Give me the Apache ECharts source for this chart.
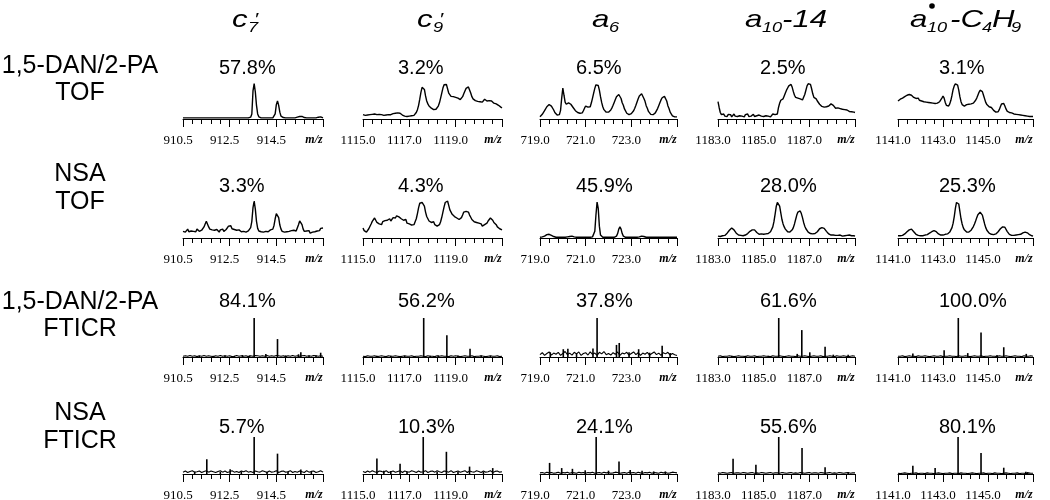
<!DOCTYPE html>
<html><head><meta charset="utf-8">
<script src="https://cdn.jsdelivr.net/npm/echarts/dist/echarts.min.js"></script>
<style>html,body{margin:0;padding:0;background:#fff}#c{width:1050px;height:500px}</style>
</head><body><div id="c"></div>
<script>
// ---------- categories / labels ----------
const columnTitles = ["c7'", "c9'", "a6", "a10-14", "a10•-C4H9"];
const rowLabels = [["1,5-DAN/2-PA","TOF"],["NSA","TOF"],["1,5-DAN/2-PA","FTICR"],["NSA","FTICR"]];
const mzMin = [910.5, 1115.0, 719.0, 1183.0, 1141.0];
const mzSpan = 6;
const mzTickStep = 2;
const pct_r1 = [57.8, 3.2, 6.5, 2.5, 3.1];
const pct_r2 = [3.3, 4.3, 45.9, 28.0, 25.3];
const pct_r3 = [84.1, 56.2, 37.8, 61.6, 100.0];
const pct_r4 = [5.7, 10.3, 24.1, 55.6, 80.1];

// ---------- TOF profiles (relative intensity, sampled every 0.05 m/z from mzMin) ----------
const tofStep = 0.05;
const r1_c7 = [3,3,3,3,3,3,3,3,3,3, 3,3,3,3,3,3,3,3,3,3, 3,3,3,3,3,3,3,3,3,3, 3,3,3,3,3,3,3,3,3,3, 3,3,3,3,3,3,3,3,3,3,
 3,3,3,3,3,3,3,3,5,14, 78,98,75,38,14,6,4,3,3,3, 3,3,3,3,3,3,3,3,5,14, 40,50,38,19,8,5,4,3,3,3, 3,3,3,3,3,3,3,4,5,6,
 7,8,7,5,4,3,3,3,3,3, 3,3,3,3,3,4,5,6,6,5, 3];
const r1_c9 = [12,14,10,13,11,15,12,10,13,12, 14,11,12,9,13,11,12,14,10,12, 11,13,12,14,12,16,15,18,16,19, 17,15,16,13,11,9,8,10,7,8,
 8,6,9,7,10,13,18,26,38,55, 74,88,93,82,64,50,42,36,33,30, 28,26,28,27,31,36,45,58,72,86, 95,100,96,84,72,68,63,66,62,65,
 60,63,58,55,54,57,62,70,78,85, 88,89,84,72,62,56,54,51,53,49, 50,48,51,47,52,55,53,50,54,51, 48,50,46,44,47,42,40,38,35,33, 31];
const r1_a6 = [6,9,13,17,23,28,34,37,40,39, 36,31,25,18,14,11,10,12,24,58, 86,66,47,41,44,45,43,41,38,32, 27,23,22,18,19,16,18,17,23,30,
 36,38,33,30,34,45,58,72,85,95, 100,93,80,62,46,34,26,21,19,18, 19,21,25,31,38,46,54,62,67,68, 64,57,45,38,28,23,16,15,12,14,
 15,18,23,30,38,47,56,64,69,70, 66,57,49,37,30,21,18,13,14,12, 14,17,22,29,37,45,53,59,62,63, 58,50,37,29,19,15,9,9,6,7, 6];
const r1_a10 = [48,32,18,12,9,14,8,11,7,13, 9,12,6,10,14,8,11,7,12,9, 13,8,10,6,12,9,14,7,11,8, 10,13,7,12,9,6,11,14,8,10,
 7,12,9,13,8,11,6,10,14,9, 12,15,14,32,44,52,48,56,64,72, 80,86,92,95,96,88,76,66,60,57, 58,54,56,52,53,58,68,80,92,98,
 100,96,84,70,60,55,56,50,46,41, 38,35,37,33,30,34,38,36,40,42, 40,38,34,30,28,31,26,29,25,27, 24,26,22,25,23,21,24,20,22,19, 18];
const r1_a10r = [50,48,55,52,58,56,62,60,66,70, 68,72,66,64,60,62,57,55,58,52, 54,50,52,48,51,47,50,46,49,45, 48,44,47,43,46,44,45,48,52,58,
 64,58,46,38,34,36,42,52,66,82, 92,98,100,94,80,62,48,40,37,36, 38,40,42,41,44,42,46,44,48,52, 58,66,74,80,82,76,66,56,46,40,
 36,34,34,32,28,24,21,19,18,20, 26,34,42,45,43,36,28,22,20,18, 20,17,16,14,16,13,15,12,14,11, 12,10,11,9,10,8,9,7,8,7, 7];
const r2_c7 = [18,22,16,20,24,17,21,19,23,18, 22,17,24,20,18,23,21,26,30,38, 45,40,30,24,19,22,17,21,18,23, 20,16,22,19,24,18,21,23,27,32,
 36,33,25,20,23,18,21,16,22,19, 17,22,18,20,16,21,19,23,28,45, 82,100,78,45,26,19,22,17,20,16, 21,18,23,17,20,22,19,24,34,52,
 66,68,55,35,24,18,21,16,20,17, 22,18,15,20,17,21,16,19,24,36, 46,48,36,24,18,14,19,15,20,13, 18,16,21,17,22,19,24,20,26,23, 27];
const r2_c9 = [27,20,24,16,18,25,30,38,45,50, 54,48,42,46,38,41,36,44,40,47, 42,48,45,52,46,50,55,58,54,60, 63,57,60,52,54,48,44,50,40,43,
 38,42,35,40,36,44,52,66,82,94, 98,96,100,86,70,58,52,46,48,42, 40,44,36,38,32,31,36,44,56,70, 84,96,92,100,88,76,70,64,63,58,
 60,54,56,50,49,55,62,70,74,72, 76,70,62,56,50,46,44,40,42,38, 40,35,38,32,31,36,34,40,46,50, 54,52,48,42,38,36,30,28,25,24, 22];
const r2_a6 = [2,2,3,4,5,7,9,10,10,9, 7,5,4,3,2,2,2,2,2,2, 2,2,2,2,3,3,4,5,5,4, 3,2,2,2,2,2,2,2,2,2,
 2,2,2,2,2,2,3,5,18,62, 97,80,32,8,3,2,2,2,2,2, 2,2,2,2,2,2,3,5,12,24, 30,24,12,5,3,2,2,2,2,2,
 2,2,2,2,2,2,2,3,4,5, 5,4,3,2,2,2,2,2,2,2, 2,2,2,2,2,2,2,2,2,2, 2,2,2,2,2,2,2,2,2,2, 2];
const r2_a10 = [5,6,4,7,6,8,7,10,13,17, 21,25,27,26,22,17,13,10,8,9, 7,8,6,9,8,10,12,15,18,20, 22,23,22,19,15,12,10,9,11,8,
 10,9,11,10,12,14,17,22,30,44, 64,85,96,97,86,68,50,38,30,24, 19,17,15,16,18,22,28,38,50,62, 70,73,73,66,55,42,32,25,20,16,
 13,12,10,11,9,12,14,17,21,25, 27,28,28,26,22,18,14,11,9,8, 7,8,6,7,5,7,6,8,6,5, 7,6,5,7,6,8,5,6,7,6, 5];
const r2_a10r = [6,7,6,8,7,9,11,14,17,20, 22,24,24,21,17,13,10,8,7,8, 6,7,6,7,8,7,9,11,13,15, 17,19,20,20,17,14,11,9,8,9,
 8,9,10,9,11,13,16,20,28,40, 58,80,96,100,92,72,52,38,28,22, 18,16,15,16,18,21,25,31,38,46, 55,63,68,70,69,62,50,38,28,21,
 16,13,11,10,9,9,10,11,14,17, 21,25,28,30,31,29,24,18,13,10, 8,7,8,7,6,8,7,9,8,10, 12,14,15,16,16,14,11,9,7,6, 5];

// ---------- FTICR peaks [m/z, relative intensity] ----------
const r3_c7 = [[911.2,3],[911.8,3],[912.3,4],[912.7,3],[913.05,5],[913.35,4],[913.55,100],[914.05,8],[914.55,46],[914.9,4],[915.45,7],[915.55,12],[915.9,4],[916.2,4],[916.4,11]];
const r3_c9 = [[1115.6,3],[1116.2,3],[1116.8,3],[1117.62,100],[1117.9,3],[1118.25,4],[1118.62,56],[1119.1,4],[1119.62,21],[1120.1,4],[1120.5,3]];
const r3_a6 = [[719.45,12],[720.02,20],[720.22,21],[720.6,10],[721.32,22],[721.5,100],[722.35,31],[722.47,36],[722.9,12],[723.32,20],[723.8,11],[724.35,29],[724.7,10]];
const r3_a10 = [[1183.6,3],[1184.2,3],[1185.2,3],[1185.66,100],[1186.47,8],[1186.67,69],[1187.02,12],[1187.69,26],[1188.05,6],[1188.7,6]];
const r3_a10r = [[1141.66,9],[1143.05,17],[1143.68,100],[1144.1,10],[1144.69,63],[1145.4,5],[1145.7,25],[1146.7,8]];
const r4_c7 = [[911.0,6],[911.52,40],[912.1,6],[912.52,13],[913.0,7],[913.55,100],[914.1,6],[914.55,55],[915.0,7],[915.55,12],[916.0,6]];
const r4_c9 = [[1115.6,42],[1115.9,9],[1116.2,8],[1116.6,28],[1116.9,7],[1117.6,100],[1118.2,6],[1118.6,60],[1119.1,6],[1119.6,20],[1120.2,6],[1120.6,16]];
const r4_a6 = [[719.42,30],[719.95,16],[720.42,14],[720.98,10],[721.46,100],[722.0,9],[722.46,34],[722.95,11],[723.47,9],[723.98,7],[724.49,7]];
const r4_a10 = [[1183.66,41],[1184.66,25],[1185.66,100],[1186.68,70],[1187.69,18],[1188.7,5]];
const r4_a10r = [[1141.66,22],[1142.65,16],[1143.67,100],[1144.69,57],[1145.7,17],[1146.68,6],[1146.75,5]];

// ---------- FTICR baseline noise (sampled every 0.1 m/z from mzMin) ----------
const noiseStep = 0.1;
const r3_c7_noise = [2,3,2,4,2,3,1,3,2,4, 2,3,2,1,3,2,4,2,3,2, 3,1,2,4,2,3,2,3,1,3, 2,4,3,2,3,2,4,2,3,2, 4,3,2,3,1,3,2,4,2,3, 2,3,4,2,3,2,4,3,2,3, 2];
const r3_c9_noise = [2,1,3,2,2,3,1,2,3,2, 1,3,2,2,3,2,1,2,3,2, 2,3,1,2,2,3,2,1,3,2, 2,1,3,2,3,2,2,1,3,2, 3,2,1,2,3,2,2,3,1,2, 2,3,2,1,2,3,2,2,3,1, 2];
const r3_a6_noise = [6,11,4,9,13,5,10,7,12,4, 9,14,6,10,5,12,8,13,4,9, 11,5,13,7,10,4,12,8,14,6, 9,5,11,7,13,4,10,8,12,5, 9,13,6,11,4,10,7,12,5,9, 13,6,10,4,11,8,12,5,9,6, 4];
const r3_a10_noise = [2,3,1,2,2,3,2,1,2,3, 2,2,1,3,2,2,3,1,2,2, 3,2,2,1,3,2,2,3,2,1, 2,3,2,2,1,3,2,2,3,2, 1,2,3,2,2,3,1,2,2,3, 2,1,3,2,2,3,2,1,2,3, 2];
const r3_a10r_noise = [2,2,3,1,2,3,2,2,1,3, 2,2,3,2,1,2,3,2,2,3, 1,2,2,3,2,2,1,3,2,2, 3,2,1,2,3,2,2,3,1,2, 2,3,2,2,1,3,2,2,3,2, 1,2,3,2,2,1,3,2,2,3, 2];
const r4_c7_noise = [5,8,4,7,9,5,6,8,4,7, 9,5,8,6,4,7,9,5,8,4, 6,9,5,7,4,8,6,9,5,7, 4,8,6,5,9,7,4,8,5,6, 9,4,7,8,5,6,9,4,7,5, 8,6,4,9,5,7,8,4,6,9, 5];
const r4_c9_noise = [7,4,8,5,9,6,4,8,7,5, 9,4,6,8,5,7,9,4,8,6, 5,9,7,4,8,5,6,9,4,7, 8,5,9,6,4,8,7,5,9,4, 6,8,5,7,9,4,8,6,5,9, 7,4,8,5,6,9,4,7,8,5, 6];
const r4_a6_noise = [3,4,2,5,3,4,2,3,5,2, 4,3,5,2,4,3,2,5,3,4, 2,4,3,5,2,3,4,2,5,3, 4,2,3,5,4,2,3,4,2,5, 3,4,2,5,3,2,4,3,5,2, 4,3,2,5,3,4,2,3,5,4, 3];
const r4_a10_noise = [3,2,4,3,2,3,4,2,3,3, 2,4,3,2,3,4,2,3,2,4, 3,2,3,4,2,3,3,2,4,3, 2,3,4,2,3,2,4,3,2,3, 4,2,3,3,2,4,3,2,3,4, 2,3,2,4,3,2,3,4,2,3, 3];
const r4_a10r_noise = [2,1,2,3,2,1,2,2,3,1, 2,2,1,3,2,2,1,2,3,2, 1,2,2,3,1,2,2,1,3,2, 2,1,2,3,2,1,2,2,3,1, 2,2,1,3,2,2,1,2,3,2, 1,2,2,3,1,2,2,1,3,2, 2];

// ---------- layout ----------
const colLeft = [183, 363, 540, 718, 898];
const colWidth = [140, 139, 137, 137, 135];
const rowTop = [83, 201, 318, 437];
const rowAxisY = [119, 238, 357, 474];
const pctX = [219, 398, 576, 760, 939];
const pctY = [68, 186, 301, 427];
const rowLabelX = 80;
const rowLabelY = [[66, 93], [174, 202], [302, 329], [413, 441]];

const tofRows = [[r1_c7, r1_c9, r1_a6, r1_a10, r1_a10r], [r2_c7, r2_c9, r2_a6, r2_a10, r2_a10r]];
const ftRows = [[r3_c7, r3_c9, r3_a6, r3_a10, r3_a10r], [r4_c7, r4_c9, r4_a6, r4_a10, r4_a10r]];
const ftNoise = [[r3_c7_noise, r3_c9_noise, r3_a6_noise, r3_a10_noise, r3_a10r_noise],
                 [r4_c7_noise, r4_c9_noise, r4_a6_noise, r4_a10_noise, r4_a10r_noise]];
const pctRows = [pct_r1, pct_r2, pct_r3, pct_r4];

const SANS = '"Liberation Sans", Arial, sans-serif';
const SERIF = '"Liberation Serif", "Times New Roman", serif';

const grids = [], xAxes = [], yAxes = [], series = [];
let gi = 0;
for (let r = 0; r < 4; r++) {
  for (let c = 0; c < 5; c++) {
    const min = mzMin[c];
    grids.push({left: colLeft[c], top: rowTop[r], width: colWidth[c], height: rowAxisY[r] - rowTop[r],
                containLabel: false, outerBoundsMode: 'none'});
    xAxes.push({
      type: 'value', gridIndex: gi, min: 0, max: mzSpan, interval: mzTickStep,
      axisLine: {show: true, onZero: false, lineStyle: {color: '#000', width: 1}},
      axisTick: {show: true, length: 8, lineStyle: {color: '#000', width: 1}},
      minorTick: {show: true, splitNumber: 5, length: 5, lineStyle: {color: '#000', width: 1}},
      splitLine: {show: false}, minorSplitLine: {show: false},
      axisLabel: {
        show: true, showMinLabel: true, showMaxLabel: true, hideOverlap: false,
        margin: 15, color: '#000', fontFamily: SERIF, fontSize: 13, padding: [0, 10, 0, 0],
        formatter: (v) => Math.abs(v - mzSpan) < 1e-6 ? '{m|m/z}' : (min + v).toFixed(1),
        rich: {m: {fontFamily: SERIF, fontSize: 12, fontStyle: 'italic', fontWeight: 'bold', color: '#000', padding: [0, 8, 0, 0]}}
      }
    });
    yAxes.push({type: 'value', gridIndex: gi, min: 0, max: 100, show: false});
    if (r < 2) {
      const arr = tofRows[r][c];
      series.push({type: 'line', xAxisIndex: gi, yAxisIndex: gi, symbol: 'none', animation: false,
        lineStyle: {color: '#000', width: 1.4}, data: arr.map((v, i) => [i * tofStep, v])});
    } else {
      const noise = ftNoise[r - 2][c];
      series.push({type: 'line', xAxisIndex: gi, yAxisIndex: gi, symbol: 'none', animation: false, z: 2,
        lineStyle: {color: '#000', width: 1.1}, data: noise.map((v, i) => [i * noiseStep, v])});
      const peaks = ftRows[r - 2][c];
      series.push({type: 'bar', xAxisIndex: gi, yAxisIndex: gi, barWidth: 1.6, animation: false, z: 3,
        itemStyle: {color: '#000'}, data: peaks.map(p => [p[0] - min, p[1]])});
    }
    gi++;
  }
}

// ---------- texts ----------
const graphics = [];
function txt(x, y, text, size, opts) {
  opts = opts || {};
  graphics.push({type: 'text', x: x, y: y, scaleX: opts.sx || 1, silent: true, z: 10,
    style: {text: text, fill: '#000', fontSize: size, fontFamily: opts.family || SANS,
      fontStyle: opts.italic ? 'italic' : 'normal', fontWeight: opts.bold ? 'bold' : 'normal',
      textAlign: opts.align || 'left', textVerticalAlign: 'middle', verticalAlign: 'middle'}});
}
// row labels
for (let r = 0; r < 4; r++) {
  txt(rowLabelX, rowLabelY[r][0], rowLabels[r][0], 25, {align: 'center'});
  txt(rowLabelX, rowLabelY[r][1], rowLabels[r][1], 25, {align: 'center'});
}
// percentages
for (let r = 0; r < 4; r++) for (let c = 0; c < 5; c++) {
  txt(pctX[c], pctY[r], pctRows[r][c].toFixed(1) + '%', 20);
}
// column titles (main / subscript / superscript pieces, horizontally widened like the source)
const MAIN = 24, SUB = 14, TY = 20, SY = 28;
const it = {italic: true, sx: 1.3};
// c7'
txt(232, TY, 'c', MAIN, it); txt(248, SY, '7', SUB, it); txt(254, 20, '\u2032', 17, it);
// c9'
txt(417, TY, 'c', MAIN, it); txt(433, SY, '9', SUB, it); txt(439, 20, '\u2032', 17, it);
// a6
txt(592, TY, 'a', MAIN, it); txt(609, SY, '6', SUB, it);
// a10-14
txt(745, TY, 'a', MAIN, it); txt(762, SY, '10', SUB, it); txt(782, TY, '-14', MAIN, it);
// a10•-C4H9
txt(910, TY, 'a', MAIN, it); txt(927, SY, '10', SUB, it); txt(950, TY, '-C', MAIN, it);
txt(982, SY, '4', SUB, it); txt(992, TY, 'H', MAIN, it); txt(1011, SY, '9', SUB, it);
graphics.push({type: 'circle', shape: {cx: 932, cy: 6, r: 2.8}, style: {fill: '#000'}, silent: true, z: 10});

const chart = echarts.init(document.getElementById('c'), null, {renderer: 'canvas'});
chart.setOption({
  animation: false,
  backgroundColor: '#fff',
  grid: grids, xAxis: xAxes, yAxis: yAxes, series: series, graphic: graphics
});
</script>
</body></html>
